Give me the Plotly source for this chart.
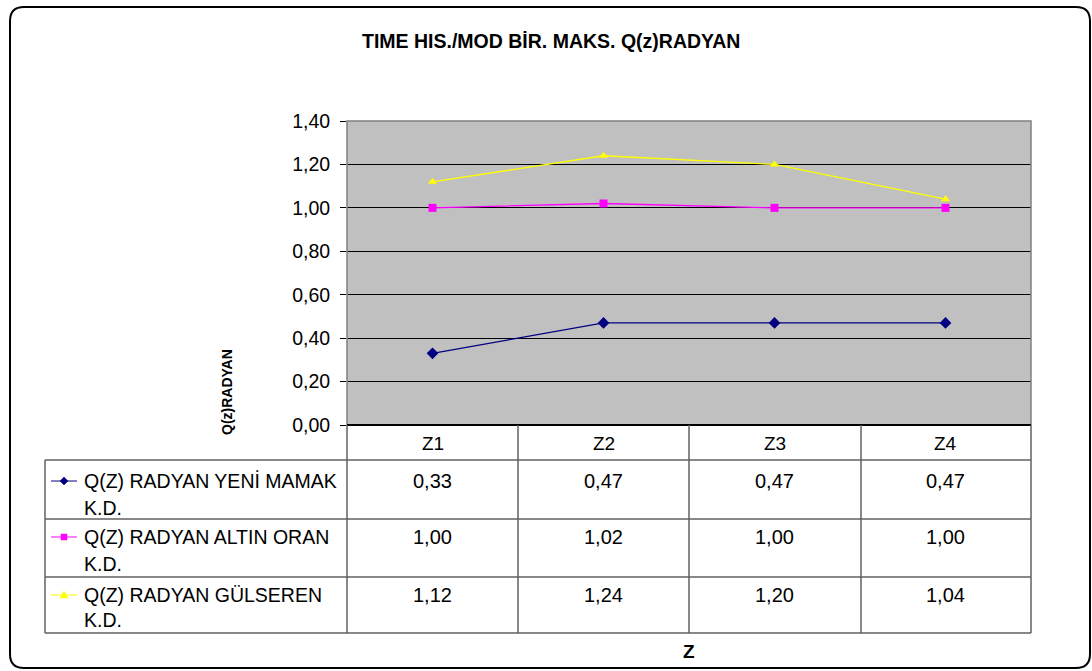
import plotly.graph_objects as go

# ---- data ----
categories = ["Z1", "Z2", "Z3", "Z4"]
series_names = ["Q(Z) RADYAN YENİ MAMAK K.D.", "Q(Z) RADYAN ALTIN ORAN K.D.", "Q(Z) RADYAN GÜLSEREN K.D."]
name_lines = [["Q(Z) RADYAN YENİ MAMAK", "K.D."], ["Q(Z) RADYAN ALTIN ORAN", "K.D."], ["Q(Z) RADYAN GÜLSEREN", "K.D."]]
yeni_mamak = [0.33, 0.47, 0.47, 0.47]
altin_oran = [1.00, 1.02, 1.00, 1.00]
gulseren = [1.12, 1.24, 1.20, 1.04]
y_ticks = [0.0, 0.2, 0.4, 0.6, 0.8, 1.0, 1.2, 1.4]

series_values = [yeni_mamak, altin_oran, gulseren]
colors = ["#000080", "#FF00FF", "#FFFF00"]
symbols = ["diamond", "square", "triangle-up"]

W, H = 1092, 671
FONT = "Liberation Sans, Arial, sans-serif"

def px(x):
    return x / W

def py(y):
    return 1 - y / H

L, R, T, B = 347, 1031, 121, 425
row_lines = [460, 519, 577, 633]
col_lines = [518, 689, 861]
tbl_left = 45

fig = go.Figure()
for name, vals, c, s in zip(series_names, series_values, colors, symbols):
    fig.add_trace(go.Scatter(
        x=categories, y=vals, mode="lines+markers", name=name,
        line=dict(color=c, width=1.3),
        marker=dict(color=c, symbol=s, size=8 if s != "diamond" else 9),
        showlegend=False, cliponaxis=False,
    ))

shapes = []
shapes.append(dict(type="rect", xref="paper", yref="paper", x0=px(L), x1=px(R), y0=py(B), y1=py(T),
                   line=dict(color="#808080", width=1.5), layer="above"))
shapes.append(dict(type="line", xref="paper", yref="paper", x0=px(L), x1=px(R), y0=py(B), y1=py(B),
                   line=dict(color="#000000", width=2), layer="above"))
for yy in row_lines:
    shapes.append(dict(type="line", xref="paper", yref="paper", x0=px(tbl_left), x1=px(R), y0=py(yy), y1=py(yy),
                       line=dict(color="#606060", width=1.5)))
shapes.append(dict(type="line", xref="paper", yref="paper", x0=px(tbl_left), x1=px(tbl_left), y0=py(row_lines[0]), y1=py(row_lines[-1]),
                   line=dict(color="#606060", width=1.5)))
for xx in [L, R] + col_lines:
    shapes.append(dict(type="line", xref="paper", yref="paper", x0=px(xx), x1=px(xx), y0=py(B), y1=py(row_lines[-1]),
                       line=dict(color="#606060", width=1.5)))

x0b, y0b, x1b, y1b, r = 10, 7, 1090, 668, 14
path = (f"M {px(x0b+r)},{py(y0b)} L {px(x1b-r)},{py(y0b)} Q {px(x1b)},{py(y0b)} {px(x1b)},{py(y0b+r)} "
        f"L {px(x1b)},{py(y1b-r)} Q {px(x1b)},{py(y1b)} {px(x1b-r)},{py(y1b)} "
        f"L {px(x0b+r)},{py(y1b)} Q {px(x0b)},{py(y1b)} {px(x0b)},{py(y1b-r)} "
        f"L {px(x0b)},{py(y0b+r)} Q {px(x0b)},{py(y0b)} {px(x0b+r)},{py(y0b)} Z")
shapes.append(dict(type="path", xref="paper", yref="paper", path=path, line=dict(color="#000000", width=2)))

key_y = [481, 537, 595]
kd_y = [508, 564, 620]
for ky, c, s in zip(key_y, colors, symbols):
    shapes.append(dict(type="line", xref="paper", yref="paper", x0=px(51), x1=px(77), y0=py(ky), y1=py(ky),
                       line=dict(color=c, width=1)))
    mx = 64
    if s == "diamond":
        p = f"M {px(mx)},{py(ky-4)} L {px(mx+4)},{py(ky)} L {px(mx)},{py(ky+4)} L {px(mx-4)},{py(ky)} Z"
    elif s == "square":
        p = f"M {px(mx-3)},{py(ky-3)} L {px(mx+3)},{py(ky-3)} L {px(mx+3)},{py(ky+3)} L {px(mx-3)},{py(ky+3)} Z"
    else:
        p = f"M {px(mx)},{py(ky-4)} L {px(mx+4)},{py(ky+3)} L {px(mx-4)},{py(ky+3)} Z"
    shapes.append(dict(type="path", xref="paper", yref="paper", path=p, fillcolor=c, line=dict(color=c, width=0.5)))

def ann(text, x, y, size, xanchor="center", angle=0):
    return dict(text=text, x=px(x), y=py(y), xref="paper", yref="paper", showarrow=False,
                xanchor=xanchor, yanchor="middle", textangle=angle,
                font=dict(family=FONT, size=size, color="#000"))

annotations = [
    ann("<b>TIME HIS./MOD BİR. MAKS. Q(z)RADYAN</b>", 551, 41, 19.5),
    ann("<b>Q(z)RADYAN</b>", 227, 392, 14, angle=-90),
    ann("<b>Z</b>", 689, 651, 19),
]

cell_w = (R - L) / len(categories)
for i, cat in enumerate(categories):
    cx = L + cell_w * (i + 0.5)
    annotations.append(ann(cat, cx, 444, 19))
    for vals, ky in zip(series_values, key_y):
        annotations.append(ann(f"{vals[i]:.2f}".replace(".", ","), cx, ky, 20))
for lines, ky, kdy in zip(name_lines, key_y, kd_y):
    annotations.append(ann(lines[0], 82, ky, 19.5, xanchor="left"))
    annotations.append(ann(lines[1], 82, kdy, 19.5, xanchor="left"))

fig.update_layout(
    width=W, height=H, autosize=False,
    margin=dict(l=0, r=0, t=0, b=0, pad=0),
    paper_bgcolor="white", plot_bgcolor="#C0C0C0",
    separators=",.",
    xaxis=dict(domain=[px(L), px(R)], range=[-0.5, 3.5], showticklabels=False, showgrid=False,
               zeroline=False, showline=False, ticks="", automargin=False),
    yaxis=dict(domain=[py(B), py(T)], range=[0, 1.4], tickvals=y_ticks, tickformat=".2f",
               showgrid=True, gridcolor="#000000", gridwidth=1, zeroline=False, showline=False,
               ticks="outside", ticklen=6, tickcolor="#000000", tickwidth=1, automargin=False,
               ticklabelstandoff=6,
               tickfont=dict(family=FONT, size=19.5, color="#000")),
    shapes=shapes, annotations=annotations,
)

fig.write_html("out.html")
